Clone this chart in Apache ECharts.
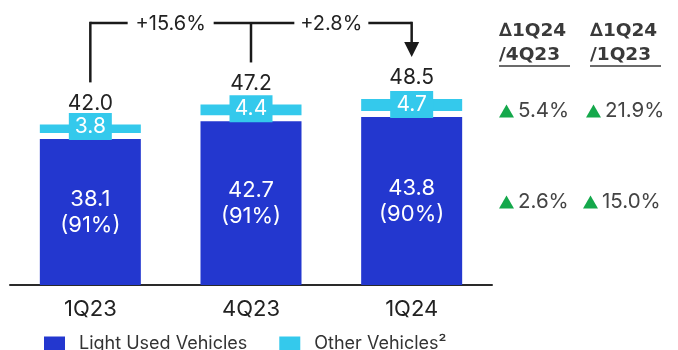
<!DOCTYPE html>
<html><head><meta charset="utf-8">
<script src="https://cdn.jsdelivr.net/npm/echarts@6/dist/echarts.min.js"></script>
<style>html,body{margin:0;padding:0;background:#fff}#c{width:678px;height:350px}</style>
</head><body><div id="c"></div>
<script>
// ---- data ----
const categories = ['1Q23', '4Q23', '1Q24'];
const lightUsed = [38.1, 42.7, 43.8];
const lightUsedShare = ['91%', '91%', '90%'];
const otherVehicles = [3.8, 4.4, 4.7];
const totals = ['42.0', '47.2', '48.5'];
const changeLabels = ['+15.6%', '+2.8%'];
const tableHeaders = [['∆1Q24', '/4Q23'], ['∆1Q24', '/1Q23']];
const tableRowTotal = ['5.4%', '21.9%'];
const tableRowLight = ['2.6%', '15.0%'];
const seriesNames = ['Light Used Vehicles', 'Other Vehicles²'];

// ---- style ----
const FONT = 'Inter';
const DARK = '#2337CF';
const LIGHT = '#34C9EC';
const BAR_W = 101;
const GAP = 6;

const chart = echarts.init(document.getElementById('c'), null, {renderer: 'canvas'});

const customData = categories.map((c, i) => [i, lightUsed[i], otherVehicles[i]]);

chart.setOption({
  animation: false,
  textStyle: {fontFamily: FONT},
  grid: {left: 10, right: 186, top: 55, bottom: 65, containLabel: false},
  xAxis: {
    type: 'category', data: categories,
    axisLine: {lineStyle: {color: '#2a2a2a', width: 2}},
    axisTick: {show: false},
    axisLabel: {fontSize: 22, color: '#222', margin: 13, fontFamily: FONT}
  },
  yAxis: {type: 'value', min: 0, max: 60, show: false, splitLine: {show: false}},
  legend: {
    left: 44, top: 335, itemWidth: 21, itemHeight: 15, itemGap: 32, padding: 0,
    icon: 'rect',
    textStyle: {fontSize: 18, color: '#333', fontFamily: FONT, padding: [0, 0, 0, 9]},
    data: seriesNames
  },
  series: [
    {
      name: seriesNames[0], type: 'bar', barWidth: BAR_W,
      data: lightUsed,
      itemStyle: {color: DARK},
      label: {
        show: true, position: 'inside', color: '#fff', fontSize: 22, lineHeight: 26, fontFamily: FONT,
        formatter: p => p.value.toFixed(1) + '\n(' + lightUsedShare[p.dataIndex] + ')'
      }
    },
    {
      name: seriesNames[1], type: 'custom',
      itemStyle: {color: LIGHT},
      data: customData,
      z: 3,
      renderItem: function (params, api) {
        const i = api.value(0);
        const d = api.value(1), l = api.value(2);
        const base = api.coord([i, d]);
        const top = api.coord([i, d + l]);
        const x = base[0];
        return {
          type: 'group',
          children: [
            {type: 'rect', shape: {x: x - BAR_W / 2, y: top[1], width: BAR_W, height: base[1] - GAP - top[1]},
             style: {fill: LIGHT}},
            {type: 'rect', shape: {x: x - 21.5, y: base[1] - 26, width: 43, height: 27},
             style: {fill: LIGHT}},
            {type: 'text', x: x, y: base[1] - 12.5,
             style: {text: otherVehicles[i].toFixed(1), fill: '#fff', font: '21px ' + FONT, align: 'center', verticalAlign: 'middle'}},
            {type: 'text', x: x, y: top[1] - 21,
             style: {text: totals[i], fill: '#222', font: '21px ' + FONT, align: 'center', verticalAlign: 'middle'}}
          ]
        };
      }
    }
  ]
});

// ---- annotations & table ----
function px(i, v) { return chart.convertToPixel({gridIndex: 0}, [i, v]); }
const tops = categories.map((c, i) => px(i, lightUsed[i] + otherVehicles[i]));
const BY = 23;
const LW = 2.5;
const LC = '#1a1a1a';
const endY = tops.map(t => t[1] - 42);
const mid1 = (tops[0][0] + tops[1][0]) / 2;
const mid2 = (tops[1][0] + tops[2][0]) / 2;
const halfT1 = 43, halfT2 = 37;
const g = [];
function line(x1, y1, x2, y2) {
  g.push({type: 'line', shape: {x1, y1, x2, y2}, style: {stroke: LC, lineWidth: LW}, z: 10});
}
line(tops[0][0], endY[0], tops[0][0], BY - LW / 2);
line(tops[0][0], BY, mid1 - halfT1, BY);
line(mid1 + halfT1, BY, mid2 - halfT2, BY);
line(tops[1][0], BY, tops[1][0], endY[1]);
line(mid2 + halfT2, BY, tops[2][0], BY);
line(tops[2][0], BY - LW / 2, tops[2][0], endY[2] - 13);
g.push({type: 'polygon', shape: {points: [[tops[2][0] - 7.5, endY[2] - 15], [tops[2][0] + 7.5, endY[2] - 15], [tops[2][0], endY[2]]]},
        style: {fill: LC}, z: 10});
g.push({type: 'text', x: mid1, y: BY + 1, style: {text: changeLabels[0], fill: '#222', font: '20px ' + FONT, align: 'center', verticalAlign: 'middle'}, z: 10});
g.push({type: 'text', x: mid2, y: BY + 1, style: {text: changeLabels[1], fill: '#222', font: '20px ' + FONT, align: 'center', verticalAlign: 'middle'}, z: 10});

// table
const colX = [499, 590];
const rowY = [111, 202];
const HFONT = 'bold 18.5px "DejaVu Sans"';
tableHeaders.forEach((h, k) => {
  g.push({type: 'text', x: colX[k], y: 31, style: {text: h[0], fill: '#3a3a3a', font: HFONT, align: 'left', verticalAlign: 'middle'}});
  g.push({type: 'text', x: colX[k], y: 55, style: {text: h[1], fill: '#3a3a3a', font: HFONT, align: 'left', verticalAlign: 'middle'}});
  g.push({type: 'line', shape: {x1: colX[k], y1: 66, x2: colX[k] + 71, y2: 66}, style: {stroke: '#3a3a3a', lineWidth: 1.5}});
});
function tri(x, y) {
  g.push({type: 'polygon', shape: {points: [[x, y + 6.5], [x + 15, y + 6.5], [x + 7.5, y - 6.5]]}, style: {fill: '#14A84B'}});
}
const rows = [tableRowTotal, tableRowLight];
const triX = [[499, 586], [499, 583]];
rows.forEach((r, ri) => {
  r.forEach((t, k) => {
    tri(triX[ri][k], rowY[ri]);
    g.push({type: 'text', x: triX[ri][k] + 19, y: rowY[ri], style: {text: t, fill: '#444', font: '20.5px ' + FONT, align: 'left', verticalAlign: 'middle'}});
  });
});
chart.setOption({graphic: g});
</script></body></html>
